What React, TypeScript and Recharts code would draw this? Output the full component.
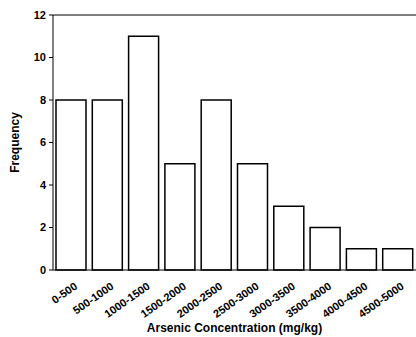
import React from 'react';
import { BarChart, Bar, XAxis, YAxis, ReferenceLine } from 'recharts';

const categories = ['0-500', '500-1000', '1000-1500', '1500-2000', '2000-2500', '2500-3000', '3000-3500', '3500-4000', '4000-4500', '4500-5000'];
const frequencies = [8, 8, 11, 5, 8, 5, 3, 2, 1, 1];
const yTicks = [0, 2, 4, 6, 8, 10, 12];

const data = categories.map((c, i) => ({ range: c, freq: frequencies[i] }));

const FONT = '"Liberation Sans", Arial, Helvetica, sans-serif';

const XTick = (props: any) => {
  const { x, y, payload } = props;
  const tx = x + 7;
  const ty = y + 10;
  return (
    <text
      x={tx}
      y={ty}
      transform={`rotate(-35, ${tx}, ${ty})`}
      textAnchor="end"
      fontFamily={FONT}
      fontWeight="bold"
      fontSize={11}
      fill="#000"
    >
      {payload.value}
    </text>
  );
};

const YLabel = (props: any) => {
  const vb = props.viewBox || {};
  const cx = 15;
  const cy = vb.y + vb.height / 2;
  return (
    <text
      x={cx}
      y={cy}
      transform={`rotate(-90, ${cx}, ${cy})`}
      textAnchor="middle"
      dominantBaseline="central"
      fontFamily={FONT}
      fontWeight="bold"
      fontSize={12}
      fill="#000"
    >
      Frequency
    </text>
  );
};

const XLabel = (props: any) => {
  const vb = props.viewBox || {};
  const cx = vb.x + vb.width / 2;
  return (
    <text
      x={cx}
      y={332}
      textAnchor="middle"
      fontFamily={FONT}
      fontWeight="bold"
      fontSize={12}
      fill="#000"
    >
      Arsenic Concentration (mg/kg)
    </text>
  );
};

export default function App() {
  return (
    <div style={{ position: 'absolute', left: 0, top: 0, width: 416, height: 337, overflow: 'hidden', background: '#fff' }}>
      <BarChart width={416} height={337} data={data} margin={{ top: 15, right: 0, bottom: 0, left: 0 }}>
        <XAxis
          dataKey="range"
          height={67}
          axisLine={{ stroke: '#000', strokeWidth: 1 }}
          tickLine={false}
          tick={<XTick />}
          interval={0}
          label={<XLabel />}
        />
        <YAxis
          width={53}
          domain={[0, 12]}
          ticks={yTicks}
          interval={0}
          axisLine={{ stroke: '#000', strokeWidth: 1 }}
          tickLine={{ stroke: '#000' }}
          tickSize={4}
          tickMargin={3}
          tick={{ fontFamily: FONT, fontWeight: 'bold', fontSize: 11, fill: '#000' }}
          label={<YLabel />}
        />
        <ReferenceLine y={12} stroke="#000" strokeWidth={1.2} />
        <Bar dataKey="freq" fill="#fff" stroke="#000" strokeWidth={1.5} barSize={30} isAnimationActive={false} />
      </BarChart>
    </div>
  );
}
